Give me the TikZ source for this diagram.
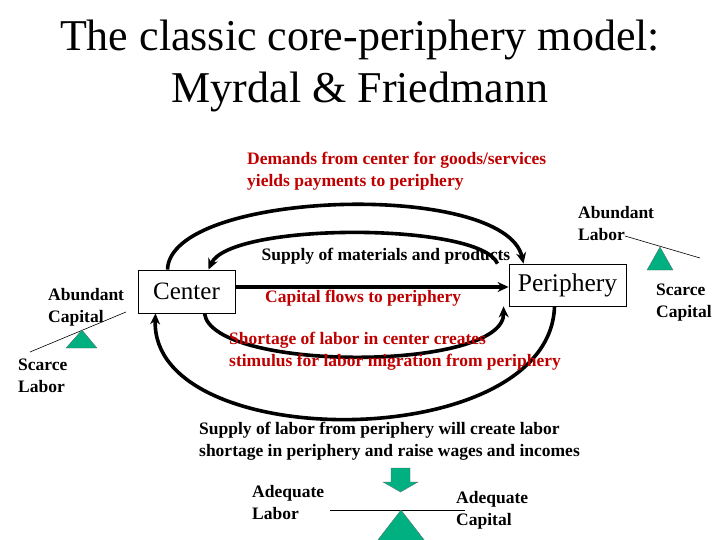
\documentclass[tikz,border=0pt]{standalone}
\usepackage{fontspec}
\setmainfont{Liberation Serif}
\usetikzlibrary{arrows.meta}
\definecolor{rd}{HTML}{C00000}
\definecolor{tq}{HTML}{00B080}
\begin{document}
\begin{tikzpicture}[x=1pt,y=-1pt,
  lbl/.style={font=\fontsize{17.5}{22}\selectfont\bfseries,align=left,anchor=north west,inner sep=0},
  rlbl/.style={lbl,text=rd},
  box/.style={draw,line width=0.8pt,fill=white},
  flow/.style={line width=3.6pt,-{Stealth[length=11pt,width=10pt]}},
  tri/.style={fill=tq,draw=black!60,line width=0.3pt}]
\useasboundingbox (0,0) rectangle (720,540);
\node (t1) at (360,40) {\fontsize{44}{48}\selectfont The classic core-periphery model:};
\node (t2) at (360,92) {\fontsize{44}{48}\selectfont Myrdal \& Friedmann};
\node[box,minimum width=97pt,minimum height=43pt,font=\fontsize{25}{28}\selectfont] (c) at (186.5,291.5) {Center};
\node[box,minimum width=117pt,minimum height=42pt,inner sep=1pt,font=\fontsize{25.5}{28}\selectfont] (p) at (567.5,285) {Periphery};
% flows
\draw[flow] ([xshift=-19pt]c.north) .. controls (170,190) and (505,180) .. ([xshift=-44pt]p.north);
\draw[flow] ([xshift=-70pt]p.north) .. controls (480,222) and (230,222) .. ([xshift=22pt]c.north);
\draw[flow] ([yshift=4.5pt]c.east) -- ([yshift=-2pt]p.west);
\draw[flow] ([xshift=18pt]c.south) .. controls (212,372) and (505,372) .. ([xshift=-64pt]p.south);
\draw[flow] ([xshift=-13pt]p.south) .. controls (550,455) and (150,455) .. ([xshift=-31pt]c.south);
% labels
\node[rlbl] (dem) at (247,152) {Demands from center for goods/services\\yields payments to periphery};
\node[lbl,anchor=center] (sup) at (386,256) {Supply of materials and products};
\node[rlbl] (cap) at (265,290) {Capital flows to periphery};
\node[rlbl] (sho) at (229,332) {Shortage of labor in center creates\\stimulus for labor migration from periphery};
\node[lbl] (sl) at (199,422) {Supply of labor from periphery will create labor\\shortage in periphery and raise wages and incomes};
\node[lbl] (al) at (578,206) {Abundant\\Labor};
\node[lbl] (sc) at (656,284) {Scarce\\Capital};
\node[lbl] (ac) at (48,288) {Abundant\\Capital};
\node[lbl] (sla) at (18,359) {Scarce\\Labor};
\node[lbl] (adl) at (252,485) {Adequate\\Labor};
\node[lbl] (adc) at (456,491) {Adequate\\Capital};
% balances
\coordinate (r1) at (625,236); \coordinate (r2) at (700,258);
\draw[line width=0.6pt] (r1) -- (r2);
\draw[tri] (660,247) -- (673,270) -- (647,270) -- cycle;
\coordinate (l1) at (30,352); \coordinate (l2) at (126,312);
\draw[line width=0.6pt] (l1) -- (l2);
\draw[tri] (82,330) -- (97,348) -- (66,348) -- cycle;
\coordinate (b1) at (330,510); \coordinate (b2) at (465,510);
\draw[line width=0.6pt] (b1) -- (b2);
\draw[tri] (401,510) -- (425,541) -- (377,541) -- cycle;
\draw[tri] (391,468) -- (410,468) -- (410,482) -- (418,482) -- (400.5,492) -- (383,482) -- (391,482) -- cycle;
\end{tikzpicture}
\end{document}
